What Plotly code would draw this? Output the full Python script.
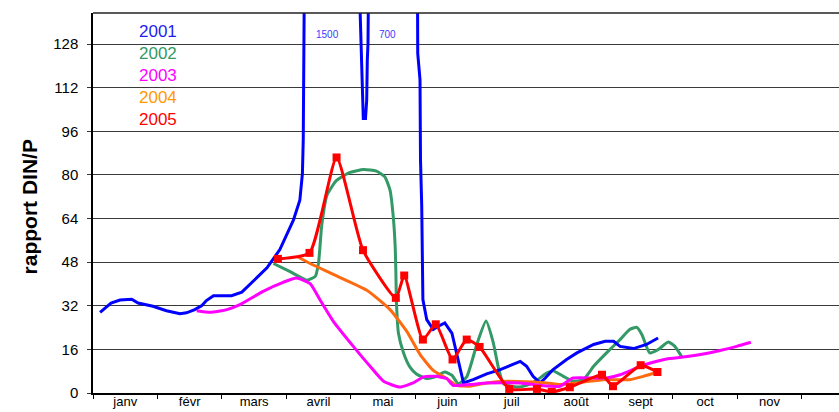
import plotly.graph_objects as go

# Month labels (axis positions are expressed in months since 1 January)
months = ["janv", "févr", "mars", "avril", "mai", "juin", "juil", "août", "sept", "oct", "nov"]
y_ticks = [0, 16, 32, 48, 64, 80, 96, 112, 128]
years = ["2001", "2002", "2003", "2004", "2005"]

# 2001 (two spring peaks reach 1500 and 700, far above the axis range)
x_2001 = [0.11, 0.28, 0.42, 0.60, 0.70, 0.93, 1.14, 1.35, 1.45, 1.58, 1.69, 1.76, 1.87,
          2.15, 2.31, 2.49, 2.70, 2.90, 3.11, 3.21, 3.25, 3.263, 3.316, 3.68,
          4.133, 4.155, 4.175, 4.195, 4.229, 4.248, 4.257, 4.268, 4.276, 4.64,
          5.036, 5.040, 5.075, 5.083, 5.102, 5.12, 5.18, 5.28, 5.36, 5.46, 5.57,
          5.64, 5.75, 5.90, 6.11, 6.32, 6.52, 6.63, 6.73, 6.83, 6.94, 7.02, 7.14,
          7.35, 7.51, 7.77, 7.95, 8.08, 8.18, 8.39, 8.59, 8.77]
y_2001 = [29.6, 33.0, 34.1, 34.4, 33.0, 31.8, 30.2, 29.1, 29.4, 30.6, 32.1, 33.9, 35.7,
          35.7, 37.0, 41.0, 45.9, 52.6, 63.4, 70.7, 80.5, 92.7, 150, 1500,
          150, 132.8, 111, 100.7, 100.7, 107.4, 122, 128.3, 150, 700,
          150, 124.6, 115, 85.4, 68.5, 34.3, 26.9, 23.3, 24.5, 25.7, 22.0,
          14.7, 3.7, 4.9, 7.0, 8.6, 10.4, 11.6, 9.8, 6.1, 3.7, 5.5, 8.6,
          12.3, 14.7, 17.8, 19.0, 19.0, 17.1, 16.3, 17.8, 20.2]

# 2002
x_2002 = [2.80, 3.06, 3.32, 3.45, 3.50, 3.55, 3.63, 3.78, 3.99, 4.20, 4.40, 4.53, 4.61,
          4.66, 4.69, 4.70, 4.71, 4.74, 4.82, 4.92, 5.02, 5.18, 5.31, 5.46, 5.57,
          5.67, 5.80, 5.96, 6.10, 6.21, 6.29, 6.37, 6.58, 6.73, 6.89, 7.04, 7.14,
          7.30, 7.45, 7.61, 7.77, 7.97, 8.18, 8.33, 8.44, 8.52, 8.64, 8.77, 8.93,
          9.03, 9.14]
y_2002 = [47.5, 44.5, 41.4, 42.8, 47.7, 61.5, 72.5, 78.0, 80.9, 82.0, 81.4, 79.3, 74.4,
          64.6, 53.6, 45.0, 33.0, 22.0, 14.7, 9.5, 7.0, 5.3, 5.9, 7.7, 6.5,
          3.4, 5.9, 18.1, 26.4, 18.7, 9.5, 3.4, 2.2, 2.8, 4.7, 7.3, 8.2,
          6.1, 4.3, 4.9, 9.8, 14.7, 19.6, 23.3, 24.1, 21.4, 14.7, 15.9, 18.7,
          17.1, 13.2]

# 2003
x_2003 = [1.61, 1.82, 2.08, 2.28, 2.64, 2.95, 3.16, 3.37, 3.52, 3.73, 4.04, 4.30, 4.51,
          4.76, 4.97, 5.13, 5.31, 5.49, 5.59, 5.85, 6.11, 6.63, 6.94, 7.25, 7.45,
          7.77, 7.97, 8.18, 8.44, 8.65, 8.90, 9.16, 9.47, 9.73, 9.99, 10.21]
y_2003 = [30.2, 29.6, 30.6, 32.4, 37.3, 40.6, 42.2, 40.1, 34.3, 26.3, 17.1, 9.8, 4.3,
          2.2, 3.7, 5.9, 6.1, 5.3, 2.8, 3.1, 3.7, 3.7, 2.8, 2.5, 5.5,
          5.5, 5.5, 6.7, 9.2, 11.0, 12.5, 13.2, 14.3, 15.6, 17.1, 18.6]

# 2004
x_2004 = [3.18, 3.37, 3.73, 4.25, 4.61, 4.87, 5.08, 5.28, 5.49, 5.64, 5.85, 6.11, 6.42,
          6.83, 7.04, 7.25, 7.51, 7.92, 8.33, 8.54, 8.76]
y_2004 = [49.9, 47.5, 43.5, 37.7, 30.6, 22.6, 14.0, 8.3, 5.3, 2.8, 2.5, 3.7, 4.3,
          4.0, 3.7, 3.1, 3.7, 4.9, 4.9, 6.1, 7.7]

# 2005 (sampling dates, drawn with markers)
x_2005 = [2.87, 3.36, 3.78, 4.19, 4.70, 4.83, 5.12, 5.32, 5.58, 5.80, 6.00, 6.46, 6.89,
          7.12, 7.40, 7.90, 8.07, 8.50, 8.76]
y_2005 = [49.2, 51.4, 86.4, 52.4, 34.9, 43.1, 19.6, 25.2, 12.3, 19.6, 16.9, 1.5, 1.5,
          0.4, 2.1, 6.7, 2.5, 10.2, 7.7]

# Values of the two off-scale 2001 peaks, written above them
peak_labels = ["1500", "700"]
peak_label_x = [3.64, 4.57]

line_colors = {"2001": "#0000FF", "2002": "#339966", "2003": "#FF00FF",
               "2004": "#FF6A10", "2005": "#FF0000"}
text_colors = {"2001": "#1E1EF0", "2002": "#339966", "2003": "#FF00FF",
               "2004": "#FF9900", "2005": "#FF0000"}

FONT = "Arial, 'Liberation Sans', sans-serif"

fig = go.Figure()

fig.add_trace(go.Scatter(x=x_2002, y=y_2002, mode="lines", name="2002",
                         line=dict(color=line_colors["2002"], width=3, shape="spline", smoothing=0.5)))
fig.add_trace(go.Scatter(x=x_2001, y=y_2001, mode="lines", name="2001",
                         line=dict(color=line_colors["2001"], width=3)))
fig.add_trace(go.Scatter(x=x_2004, y=y_2004, mode="lines", name="2004",
                         line=dict(color=line_colors["2004"], width=3, shape="spline", smoothing=0.5)))
fig.add_trace(go.Scatter(x=x_2003, y=y_2003, mode="lines", name="2003",
                         line=dict(color=line_colors["2003"], width=3, shape="spline", smoothing=0.5)))
fig.add_trace(go.Scatter(x=x_2005, y=y_2005, mode="lines+markers", name="2005",
                         line=dict(color=line_colors["2005"], width=3, shape="spline", smoothing=0.5),
                         marker=dict(symbol="square", size=8, color=line_colors["2005"])))

# Year key as coloured text in the upper left corner
for i, yr in enumerate(years):
    fig.add_annotation(x=0.68, y=132.5 - 8 * i, xref="x", yref="y", text=yr,
                       showarrow=False, xanchor="left", yanchor="middle",
                       font=dict(family=FONT, size=17, color=text_colors[yr]))

for lbl, px in zip(peak_labels, peak_label_x):
    fig.add_annotation(x=px, y=131.5, xref="x", yref="y", text=lbl, showarrow=False,
                       xanchor="center", yanchor="middle",
                       font=dict(family=FONT, size=10, color="#3A3AFF"))

# Y axis title
fig.add_annotation(x=-0.085, y=0.49, xref="paper", yref="paper", text="<b>rapport DIN/P</b>",
                   textangle=-90, showarrow=False, xanchor="center", yanchor="middle",
                   font=dict(family=FONT, size=21, color="black"))

# Top frame line
fig.add_shape(type="line", xref="paper", yref="paper", x0=0, x1=1, y0=1, y1=1,
              line=dict(color="#222222", width=1.5))

fig.update_layout(
    width=839, height=412,
    margin=dict(l=93, r=0, t=13, b=19),
    paper_bgcolor="white", plot_bgcolor="white",
    showlegend=False,
    font=dict(family=FONT, color="black"),
)

fig.update_xaxes(
    range=[0, 11.578],
    tickmode="array",
    tickvals=[i + 0.5 for i in range(len(months))],
    ticktext=months,
    ticks="",
    tickfont=dict(family=FONT, size=13, color="black"),
    ticklabelstandoff=-4,
    showgrid=False, zeroline=False,
    showline=True, linecolor="black", linewidth=1.5,
    minor=dict(tick0=0, dtick=1, ticks="outside", ticklen=4, tickcolor="black",
               tickwidth=1, showgrid=False),
    automargin=False,
)

fig.update_yaxes(
    range=[0, 139.4],
    tickmode="array",
    tickvals=y_ticks,
    ticktext=[str(v) for v in y_ticks],
    ticks="outside", ticklen=4, tickcolor="#333333",
    tickfont=dict(family=FONT, size=15, color="black"),
    ticklabelstandoff=6,
    showgrid=True, gridcolor="#3a3a3a", gridwidth=1,
    zeroline=False,
    showline=True, linecolor="black", linewidth=1.5,
    automargin=False,
)

fig.write_html("out.html")
